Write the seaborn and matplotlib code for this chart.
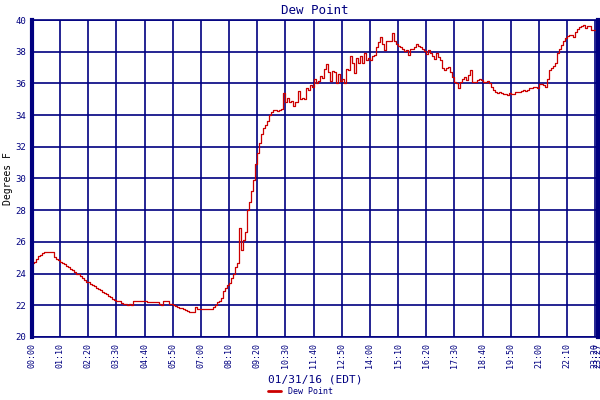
import pandas as pd
import matplotlib
matplotlib.use("Agg")
import matplotlib.pyplot as plt
import matplotlib.dates as mdates
import seaborn as sns

# dew point readings, every 5 minutes from 00:00 (one row per hour)
dew = [
    24.65, 24.75, 24.9, 25.1, 25.2, 25.3, 25.37, 25.37, 25.37, 25.37, 25.37, 25.05,
    24.95, 24.85, 24.75, 24.65, 24.6, 24.5, 24.4, 24.3, 24.2, 24.1, 24.0, 23.95,
    23.85, 23.75, 23.6, 23.5, 23.45, 23.35, 23.25, 23.2, 23.1, 23.0, 22.95, 22.85,
    22.8, 22.7, 22.6, 22.5, 22.4, 22.35, 22.3, 22.25, 22.15, 22.1, 22.1, 22.05,
    22.1, 22.05, 22.3, 22.3, 22.3, 22.3, 22.3, 22.3, 22.25, 22.2, 22.2, 22.2,
    22.2, 22.2, 22.2, 22.1, 22.05, 22.3, 22.3, 22.25, 22.1, 22.1, 22.05, 21.98,
    21.9, 21.85, 21.8, 21.75, 21.7, 21.65, 21.6, 21.6, 21.6, 21.9, 21.77, 21.77,
    21.77, 21.77, 21.77, 21.77, 21.77, 21.77, 21.9, 22.05, 22.2, 22.3, 22.45, 22.9,
    23.1, 23.25, 23.4, 23.7, 24.0, 24.4, 24.65, 26.9, 25.5, 26.1, 26.6, 28.0,
    28.5, 29.2, 29.9, 30.9, 31.6, 32.25, 32.8, 33.2, 33.4, 33.6, 34.0, 34.2,
    34.35, 34.3, 34.25, 34.3, 34.4, 35.4, 34.8, 35.1, 34.8, 34.9, 34.6, 34.8,
    35.5, 35.0, 35.1, 35.0, 35.7, 35.6, 35.9, 35.8, 36.25, 36.0, 36.15, 36.45,
    36.35, 36.9, 37.2, 36.7, 36.15, 36.8, 36.7, 36.05, 36.6, 36.15, 36.25, 36.05,
    36.9, 36.84, 37.7, 37.3, 36.63, 37.6, 37.3, 37.7, 37.26, 37.9, 37.5, 37.6,
    37.47, 37.7, 37.8, 38.3, 38.63, 38.95, 38.5, 38.1, 38.65, 38.7, 38.7, 39.2,
    38.7, 38.5, 38.35, 38.27, 38.15, 38.05, 38.1, 37.8, 38.15, 38.15, 38.3, 38.46,
    38.36, 38.27, 38.15, 38.05, 37.85, 38.1, 37.9, 37.7, 37.55, 37.9, 37.65, 37.45,
    37.0, 36.84, 37.0, 37.05, 36.7, 36.4, 36.1, 36.0, 35.7, 36.1, 36.3, 36.4,
    36.2, 36.5, 36.84, 36.1, 36.1, 36.2, 36.3, 36.2, 36.1, 36.1, 36.15, 36.0,
    35.75, 35.6, 35.45, 35.4, 35.45, 35.4, 35.35, 35.3, 35.25, 35.4, 35.35, 35.33,
    35.45, 35.47, 35.47, 35.5, 35.58, 35.55, 35.6, 35.68, 35.7, 35.8, 35.75, 35.68,
    35.94, 35.94, 35.9, 35.8, 36.3, 36.84, 37.0, 37.1, 37.3, 37.9, 38.2, 38.45,
    38.65, 38.85, 39.0, 39.05, 39.05, 38.95, 39.26, 39.45, 39.55, 39.6, 39.7, 39.47,
    39.6, 39.6, 39.4, 39.4, 39.4, 39.3,
]
times = pd.date_range("2016-01-31 00:00", periods=len(dew), freq="5min")
x_end = pd.Timestamp("2016-01-31 23:27")
xticks = list(pd.date_range("2016-01-31 00:00", "2016-01-31 23:20", freq="70min")) + [x_end]
yticks = list(range(20, 41, 2))

navy = "#000080"
red = "#cc0000"

sns.set_style("white")
plt.rcParams["font.family"] = ["DejaVu Sans Mono"]

fig = plt.figure(figsize=(6, 4), dpi=100)
ax = fig.add_axes([32 / 600, 63 / 400, 566 / 600, 317 / 400])

sns.lineplot(x=times, y=dew, color=red, linewidth=0.9, ax=ax, label="Dew Point",
             drawstyle="steps-post")

ax.set_xlim(times[0], x_end)
ax.set_ylim(20, 40)
ax.set_xticks(xticks)
ax.xaxis.set_major_formatter(mdates.DateFormatter("%H:%M"))
ax.set_yticks(yticks)
ax.tick_params(axis="x", labelrotation=90, labelsize=6, colors=navy, length=0, pad=4)
ax.tick_params(axis="y", labelsize=6.5, colors=navy, length=0, pad=4)
ax.grid(True, color=navy, linewidth=1.2)
for side, sp in ax.spines.items():
    sp.set_color(navy)
    sp.set_linewidth(3 if side in ("left", "right") else 1.2)

ax.set_title("Dew Point", color=navy, fontsize=9, pad=4)
ax.set_ylabel("Degrees F", color="black", fontsize=7)
ax.yaxis.set_label_coords(-0.033, 0.5)
ax.set_xlabel("01/31/16 (EDT)", color=navy, fontsize=8, labelpad=5)

handles, labels = ax.get_legend_handles_labels()
ax.get_legend().remove()
leg = fig.legend(handles, labels, loc="lower center", bbox_to_anchor=(0.5, 0.0),
                 frameon=False, fontsize=6, labelcolor=navy, handlelength=1.6,
                 borderaxespad=0.1)
for h in leg.get_lines():
    h.set_linewidth(2)

fig.savefig("out.png", dpi=100)
